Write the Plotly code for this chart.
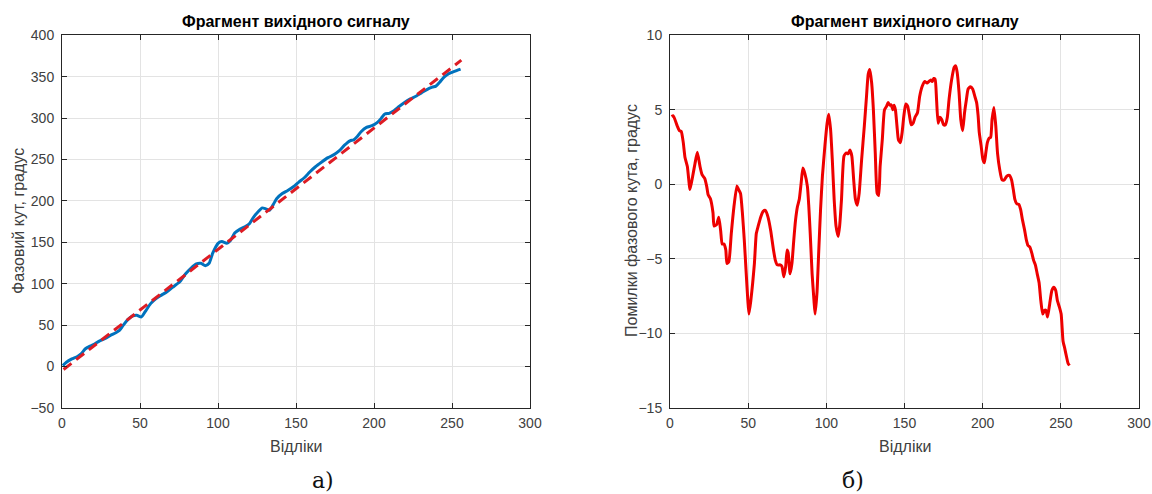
import plotly.graph_objects as go

# ---------------- data ----------------
# Left panel: measured phase angle (blue) and ideal linear phase (red dashed)
phase_x = [0.5, 2.8, 6.3, 9.9, 12.2, 15, 18, 21.1, 23.9, 27.4, 31, 34.5, 36.8, 39.2, 42.2, 45,
           47.9, 50.9, 53.2, 56.8, 60.3, 63.8, 67.3, 70.8, 75.5, 79.1, 82.6, 86.1, 89.1, 91.9,
           94.3, 96.6, 100.2, 102.5, 105.6, 108, 110.7, 114.2, 117.8, 120.1, 122.4, 126, 128.3,
           130.7, 133, 135.4, 137.7, 141.2, 144.7, 148.3, 151.8, 155.3, 158.8, 162.3, 166.5,
           170.5, 174.1, 177.6, 181.1, 184.6, 187, 189.3, 191.7, 195.2, 198.7, 202.2, 204.6,
           206.9, 209.7, 212.8, 216.3, 219.8, 223.3, 226.8, 230.4, 233.9, 237.4, 239.7, 242.1,
           244.9, 247.9, 251.5, 255.5]
phase_y = [1.2, 5.3, 9.3, 12.2, 15.4, 21.5, 24.7, 27.5, 30.8, 33.6, 37.7, 40.9, 43.7, 49.8, 56.7,
           60.8, 62, 60, 66, 76, 82.2, 86.3, 90.3, 95.6, 102.5, 111.8, 118.7, 124, 124.7, 121.9,
           124.7, 136.9, 149, 151, 149, 152.3, 161.2, 166, 169.3, 172.5, 179.4, 187.5, 191.6,
           190.4, 188.7, 195.6, 203, 209, 212.6, 217.1, 222.8, 228, 234.9, 241, 247, 252.3,
           255.6, 260.4, 267.3, 272.6, 273.8, 277.8, 283.5, 288.8, 290.8, 294.9, 299.7, 305,
           305.8, 309, 314.3, 319.1, 323.2, 326.4, 330.5, 334.5, 337.4, 338.6, 343.4, 349.5,
           353.6, 356.4, 359.2]
ideal_x = [1, 256]
ideal_y = [-3.5, 370]

# Right panel: phase angle error
err_x = [1, 2.1, 4.7, 6, 7.2, 8.5, 9.6, 11.1, 12.8, 14.5, 16, 17.5, 19.2, 20.5, 22.2, 23.5,
         24.4, 25.8, 27.5, 28.2, 29.8, 31.2, 32.4, 33.4, 34.5, 35.7, 36.4, 37.6, 39.2, 40.9,
         42.8, 43.9, 45.1, 46.3, 47.5, 48.6, 49.8, 50.5, 51.7, 52.9, 54, 55.2, 56.4, 58, 59.7,
         61, 62.7, 64.4, 66.2, 67.4, 68.6, 70.5, 71.6, 72.8, 74, 74.9, 75.6, 76.8, 78, 79.2,
         80.3, 81.5, 82.7, 83.9, 85, 86.2, 87.9, 88.8, 89.7, 90.9, 92.1, 92.8, 94, 95.1, 96.3,
         97.5, 99.1, 100.5, 101.5, 102.7, 103.8, 105, 106.2, 107.6, 108.5, 109.7, 111.3, 112.8,
         113.9, 115.1, 116.3, 117.5, 118.6, 119.8, 121, 122.6, 124.3, 125.7, 126.8, 127.8, 129,
         130.1, 131.3, 132.5, 133.5, 134.4, 135.8, 137.2, 138.6, 139.5, 140.7, 141.4, 142.6,
         143.3, 144.2, 145.2, 146.1, 147.4, 148.5, 149.6, 150.8, 152, 153.2, 154.3, 155.5,
         156.7, 158.3, 159.7, 161.4, 163, 164.4, 165.6, 166.8, 167.7, 168.7, 169.6, 170.5,
         171.5, 172.7, 173.8, 175, 176.2, 177.4, 178.5, 180.2, 181.8, 182.8, 183.7, 184.9, 186,
         187.2, 188.4, 189.6, 190.7, 192.2, 193.6, 195, 196.1, 197.1, 197.8, 199, 200.1, 201.1,
         202, 203, 204.1, 205.1, 206, 207.2, 208.4, 209.5, 210.9, 212.4, 213.8, 215.4, 217.1,
         218.5, 219.6, 220.6, 221.8, 223.2, 224.3, 225.5, 226.7, 227.9, 229, 230.2, 231.4,
         232.6, 233.7, 234.9, 236.1, 237.2, 238.4, 239.6, 240.5, 241.5, 242.9, 244.3, 245.5,
         246.7, 247.8, 249, 250.2, 251.4, 252.5, 253.7, 254.6, 255.5]
err_y = [4.55, 4.6, 3.9, 3.6, 3.55, 2.8, 1.8, 1.2, -0.35, 0.55, 1.4, 2.15, 1.2, 0.65, 0.4, -0.15,
         -0.7, -0.95, -1.9, -2.8, -2.7, -2.2, -3.1, -4.0, -4.0, -4.4, -5.3, -5.2, -3.3, -1.5,
         -0.1, -0.35, -0.6, -1.9, -3.7, -5.7, -7.8, -8.7, -7.8, -6.6, -5.3, -3.3, -2.8, -2.2,
         -1.8, -1.75, -2.2, -3.1, -4.4, -5.1, -5.4, -5.4, -5.5, -6.2, -5.5, -4.4, -4.6, -6.0,
         -5.3, -3.7, -2.4, -1.5, -1.0, 0.1, 1.1, 0.75, -0.15, -1.5, -3.3, -6.0, -7.8, -8.7,
         -7.3, -4.6, -1.7, 0.55, 2.6, 4.1, 4.7, 3.7, 1.7, -1.0, -2.8, -3.5, -2.8, -1.0, 1.9,
         2.1, 2.05, 2.3, 1.9, 0.3, -1.0, -1.4, -0.6, 1.7, 3.9, 5.9, 7.4, 7.7, 6.8, 5.0, 2.1,
         -0.6, -0.75, 1.2, 3.0, 5.0, 5.25, 5.5, 5.3, 5.35, 5.0, 5.3, 5.0, 3.9, 3.0, 2.8, 3.5,
         4.6, 5.4, 5.25, 4.6, 4.0, 4.1, 4.5, 4.8, 5.9, 6.6, 6.9, 6.8, 6.9, 7.0, 6.9, 7.1, 7.05,
         5.7, 4.1, 4.5, 4.35, 4.0, 4.0, 4.5, 5.7, 7.05, 7.85, 7.95, 7.5, 6.15, 4.35, 3.6, 4.8,
         5.7, 6.4, 6.55, 6.4, 5.9, 5.5, 4.6, 3.5, 2.6, 1.7, 1.45, 2.1, 2.8, 3.1, 3.15, 4.35,
         5.15, 3.9, 2.1, 1.0, 0.3, 0.3, 0.55, 0.6, 0.3, -0.35, -1.0, -1.3, -1.35, -1.7, -2.4,
         -3.0, -3.7, -4.1, -4.2, -4.6, -5.1, -5.4, -6.0, -6.6, -7.8, -8.7, -8.45, -8.45, -8.9,
         -8.0, -7.1, -6.9, -7.1, -7.8, -8.2, -8.7, -10.5, -11.0, -11.6, -12.0, -12.15]

x_ticks = [0, 50, 100, 150, 200, 250, 300]
left_y_ticks = [-50, 0, 50, 100, 150, 200, 250, 300, 350, 400]
right_y_ticks = [-15, -10, -5, 0, 5, 10]

title_text = "Фрагмент вихідного сигналу"
x_label = "Відліки"
left_y_label = "Фазовий кут, градус"
right_y_label = "Помилки фазового кута, градус"
captions = ["а)", "б)"]

# ---------------- figure ----------------
# The page body margin is removed below, so the canvas fills the whole window.
W, H = 1152, 494
FONT = "Liberation Sans, Arial, sans-serif"
TICK_COLOR = "#404040"
AX_COLOR = "#262626"
GRID = "#e3e3e3"


def px(x):
    return x / W


def py(y):
    return 1 - y / H


fig = go.Figure()

fig.add_trace(go.Scatter(x=phase_x, y=phase_y, mode="lines",
                         line=dict(color="#0072BD", width=3, shape="spline", smoothing=0.6),
                         xaxis="x", yaxis="y", showlegend=False))
fig.add_trace(go.Scatter(x=ideal_x, y=ideal_y, mode="lines",
                         line=dict(color="#dd1c24", width=3, dash="10px,6px"),
                         xaxis="x", yaxis="y", showlegend=False))
fig.add_trace(go.Scatter(x=err_x, y=err_y, mode="lines",
                         line=dict(color="#ee0000", width=3, shape="spline", smoothing=0.5),
                         xaxis="x2", yaxis="y2", showlegend=False))

axis_common = dict(showline=True, linecolor=AX_COLOR, linewidth=1, mirror="allticks",
                   ticks="inside", ticklen=5, tickcolor=AX_COLOR, showgrid=True,
                   gridcolor=GRID, gridwidth=1, zeroline=False, automargin=False,
                   tickfont=dict(family=FONT, size=14, color=TICK_COLOR))
ydom = [py(408), py(35.3)]

fig.update_layout(
    width=W, height=H,
    margin=dict(l=0, r=0, t=0, b=0),
    paper_bgcolor="white", plot_bgcolor="white",
    xaxis=dict(domain=[px(62), px(530)], range=[0, 300], tickvals=x_ticks, anchor="y",
               ticklabelstandoff=2, **axis_common),
    yaxis=dict(domain=ydom, range=[-50, 400], tickvals=left_y_ticks, anchor="x",
               ticklabelstandoff=4, **axis_common),
    xaxis2=dict(domain=[px(670), px(1139)], range=[0, 300], tickvals=x_ticks, anchor="y2",
                ticklabelstandoff=2, **axis_common),
    yaxis2=dict(domain=ydom, range=[-15, 10], tickvals=right_y_ticks, anchor="x2",
                ticklabelstandoff=4, **axis_common),
)

ann = []
for cx, ylab, ylx in [(296, left_y_label, 18), (904.5, right_y_label, 631)]:
    ann.append(dict(text="<b>" + title_text + "</b>", x=px(cx), y=py(21), xref="paper",
                    yref="paper", showarrow=False, xanchor="center", yanchor="middle",
                    font=dict(family=FONT, size=16, color="#000000")))
    ann.append(dict(text=x_label, x=px(cx), y=py(446), xref="paper", yref="paper",
                    showarrow=False, xanchor="center", yanchor="middle",
                    font=dict(family=FONT, size=16, color=TICK_COLOR)))
    ann.append(dict(text=ylab, x=px(ylx), y=py(221), xref="paper", yref="paper",
                    showarrow=False, xanchor="center", yanchor="middle", textangle=-90,
                    font=dict(family=FONT, size=16, color=TICK_COLOR)))
for cap, cap_x in zip(captions, [323, 853]):
    ann.append(dict(text=cap, x=px(cap_x), y=py(480), xref="paper", yref="paper",
                    showarrow=False, xanchor="center", yanchor="middle",
                    font=dict(family="DejaVu Serif, serif", size=22, color="#111111")))
fig.update_layout(annotations=ann)

# remove the default page margin and scrollbars so the canvas fills the window exactly
fig.write_html("out.html",
               config={"displayModeBar": False},
               post_script="document.documentElement.style.overflow='hidden';"
                           "document.body.style.margin='0';"
                           "document.body.style.overflow='hidden';")
